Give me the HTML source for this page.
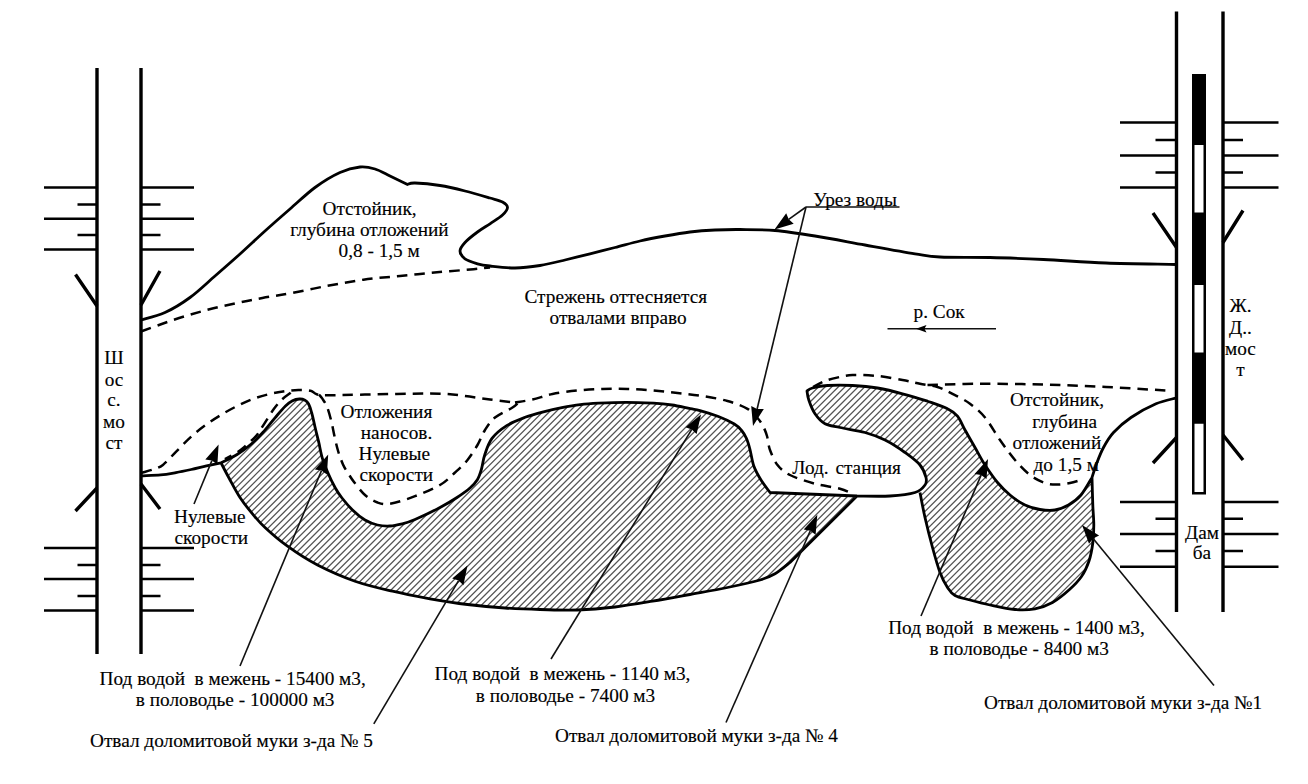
<!DOCTYPE html>
<html lang="ru"><head><meta charset="utf-8"><title>Схема</title>
<style>html,body{margin:0;padding:0;background:#fff}svg{display:block}text{white-space:pre}</style></head>
<body>
<svg width="1308" height="784" viewBox="0 0 1308 784">
<defs><clipPath id="c1"><path d="M221.0 462.8C223.7 461.4 232.1 457.6 237.1 454.5C242.1 451.4 246.7 448.0 251.0 444.3C255.3 440.6 258.8 436.9 262.8 432.5C266.8 428.1 271.2 422.2 275.0 417.8C278.8 413.4 282.6 408.8 285.5 406.0C288.4 403.2 290.2 402.0 292.5 400.8C294.8 399.6 297.4 399.1 299.5 399.0C301.6 398.9 303.5 399.4 305.0 400.2C306.5 401.0 307.5 401.9 308.6 404.0C309.7 406.1 310.6 408.8 311.6 412.5C312.7 416.2 313.8 421.7 314.9 426.5C316.0 431.3 317.2 435.9 318.5 441.2C319.8 446.5 320.8 453.1 322.4 458.4C324.0 463.7 325.9 468.1 328.0 473.0C330.1 477.9 333.0 483.8 335.3 488.0C337.6 492.2 339.1 494.3 342.0 498.0C344.9 501.7 348.7 506.3 352.5 510.0C356.3 513.7 360.8 517.5 365.0 520.0C369.2 522.5 373.3 524.0 377.5 525.0C381.7 526.0 385.8 526.2 390.0 526.0C394.2 525.8 398.3 524.8 402.5 523.8C406.7 522.7 408.8 522.2 415.0 519.5C421.2 516.8 433.0 511.2 440.0 507.5C447.0 503.8 452.0 500.8 457.0 497.5C462.0 494.2 466.6 491.0 470.0 488.0C473.4 485.0 475.6 482.7 477.5 479.5C479.4 476.3 480.3 473.1 481.5 469.0C482.7 464.9 482.9 460.1 484.7 455.0C486.4 449.9 488.3 443.3 492.0 438.4C495.7 433.5 501.2 429.1 506.7 425.6C512.2 422.1 519.0 419.6 525.1 417.3C531.2 415.0 537.3 413.4 543.4 411.8C549.5 410.2 555.7 408.8 561.8 407.6C567.9 406.4 574.1 405.3 580.2 404.6C586.3 403.9 590.9 403.6 598.5 403.2C606.1 402.8 616.9 402.3 626.1 402.3C635.3 402.3 646.0 402.8 653.6 403.2C661.2 403.6 665.9 404.1 672.0 405.0C678.1 405.9 685.6 407.8 690.3 408.7C695.0 409.6 695.3 409.3 700.0 410.6C704.7 411.9 712.7 414.3 718.4 416.5C724.1 418.7 730.4 421.7 734.3 424.0C738.2 426.3 739.6 428.1 741.6 430.5C743.6 432.9 745.1 435.3 746.5 438.5C747.9 441.7 748.8 444.9 750.0 449.5C751.2 454.1 752.0 460.9 753.8 466.0C755.6 471.1 758.3 475.6 761.0 480.0C763.7 484.4 768.5 490.4 770.0 492.5L857.0 496.0L790.0 562.5C787.5 564.4 780.0 570.8 775.0 573.8C770.0 576.7 767.9 577.7 760.0 580.0C752.1 582.3 739.2 585.1 727.5 587.5C715.8 589.9 702.5 592.2 690.0 594.5C677.5 596.8 665.0 599.2 652.5 601.2C640.0 603.3 627.5 605.5 615.0 607.0C602.5 608.5 590.0 609.6 577.5 610.0C565.0 610.4 552.1 609.8 540.0 609.5C527.9 609.2 517.1 608.8 505.0 608.0C492.9 607.2 480.0 606.0 467.5 604.5C455.0 603.0 442.5 601.0 430.0 598.8C417.5 596.5 405.0 594.2 392.5 591.2C380.0 588.3 367.5 585.6 355.0 581.2C342.5 576.9 328.8 570.8 317.5 565.0C306.2 559.2 296.2 552.5 287.5 546.2C278.8 540.0 270.8 532.9 265.0 527.5C259.2 522.1 256.7 518.8 252.5 513.8C248.3 508.8 243.9 503.5 240.0 497.5C236.1 491.5 232.2 483.8 229.0 478.0C225.8 472.2 222.3 465.3 221.0 462.8Z"/></clipPath><clipPath id="c2"><path d="M807.0 391.0C807.9 390.5 809.1 388.9 812.5 388.0C815.9 387.1 820.8 385.9 827.5 385.5C834.2 385.1 844.2 385.1 852.5 385.5C860.8 385.9 869.2 386.6 877.5 388.0C885.8 389.4 894.2 391.5 902.5 393.8C910.8 396.0 920.0 398.8 927.5 401.2C935.0 403.8 942.5 406.2 947.5 408.8C952.5 411.2 954.6 412.7 957.5 416.2C960.4 419.8 962.1 424.8 965.0 430.0C967.9 435.2 971.7 441.7 975.0 447.5C978.3 453.3 981.2 459.2 985.0 465.0C988.8 470.8 993.3 477.5 997.5 482.5C1001.7 487.5 1005.4 491.2 1010.0 495.0C1014.6 498.8 1020.0 502.6 1025.0 505.0C1030.0 507.4 1035.0 508.7 1040.0 509.5C1045.0 510.3 1050.2 510.8 1055.0 510.0C1059.8 509.2 1064.2 507.5 1068.5 505.0C1072.8 502.5 1077.1 499.6 1081.0 495.0C1084.9 490.4 1090.2 480.4 1092.0 477.5C1092.1 482.1 1092.5 497.1 1092.8 505.0C1093.1 512.9 1093.8 518.7 1093.8 525.0C1093.8 531.3 1093.6 537.0 1092.8 543.0C1092.0 549.0 1090.9 555.4 1089.0 561.0C1087.1 566.6 1084.8 571.8 1081.5 576.5C1078.2 581.2 1074.3 585.2 1069.5 589.5C1064.7 593.8 1058.2 599.3 1052.5 602.5C1046.8 605.7 1041.2 607.6 1035.0 608.8C1028.8 609.9 1022.5 610.1 1015.0 609.5C1007.5 608.9 997.5 606.6 990.0 605.0C982.5 603.4 975.8 601.6 970.0 600.0C964.2 598.4 958.8 597.6 955.0 595.5C951.2 593.4 950.0 591.3 947.5 587.5C945.0 583.7 942.5 579.2 940.0 572.5C937.5 565.8 935.0 556.7 932.5 547.5C930.0 538.3 927.1 526.7 925.0 517.5C922.9 508.3 920.8 496.7 920.0 492.5C920.8 491.2 924.0 487.5 925.0 485.0C926.0 482.5 926.8 480.8 926.0 477.5C925.2 474.2 923.5 469.2 920.0 465.0C916.5 460.8 910.8 456.7 905.0 452.5C899.2 448.3 891.7 443.3 885.0 440.0C878.3 436.7 872.5 434.6 865.0 432.5C857.5 430.4 846.7 429.0 840.0 427.5C833.3 426.0 829.2 426.0 825.0 423.8C820.8 421.5 817.7 417.7 815.0 413.8C812.3 409.8 810.1 403.8 808.8 400.0C807.4 396.2 807.3 392.5 807.0 391.0Z"/></clipPath></defs>
<rect width="1308" height="784" fill="#fff"/>
<path d="M-3.6 615.0 L216.4 395.0M3.0 615.0 L223.0 395.0M9.6 615.0 L229.6 395.0M16.2 615.0 L236.2 395.0M22.8 615.0 L242.8 395.0M29.4 615.0 L249.4 395.0M36.0 615.0 L256.0 395.0M42.6 615.0 L262.6 395.0M49.2 615.0 L269.2 395.0M55.8 615.0 L275.8 395.0M62.4 615.0 L282.4 395.0M69.0 615.0 L289.0 395.0M75.6 615.0 L295.6 395.0M82.2 615.0 L302.2 395.0M88.8 615.0 L308.8 395.0M95.4 615.0 L315.4 395.0M102.0 615.0 L322.0 395.0M108.6 615.0 L328.6 395.0M115.2 615.0 L335.2 395.0M121.8 615.0 L341.8 395.0M128.4 615.0 L348.4 395.0M135.0 615.0 L355.0 395.0M141.6 615.0 L361.6 395.0M148.2 615.0 L368.2 395.0M154.8 615.0 L374.8 395.0M161.4 615.0 L381.4 395.0M168.0 615.0 L388.0 395.0M174.6 615.0 L394.6 395.0M181.2 615.0 L401.2 395.0M187.8 615.0 L407.8 395.0M194.4 615.0 L414.4 395.0M201.0 615.0 L421.0 395.0M207.6 615.0 L427.6 395.0M214.2 615.0 L434.2 395.0M220.8 615.0 L440.8 395.0M227.4 615.0 L447.4 395.0M234.0 615.0 L454.0 395.0M240.6 615.0 L460.6 395.0M247.2 615.0 L467.2 395.0M253.8 615.0 L473.8 395.0M260.4 615.0 L480.4 395.0M267.0 615.0 L487.0 395.0M273.6 615.0 L493.6 395.0M280.2 615.0 L500.2 395.0M286.8 615.0 L506.8 395.0M293.4 615.0 L513.4 395.0M300.0 615.0 L520.0 395.0M306.6 615.0 L526.6 395.0M313.2 615.0 L533.2 395.0M319.8 615.0 L539.8 395.0M326.4 615.0 L546.4 395.0M333.0 615.0 L553.0 395.0M339.6 615.0 L559.6 395.0M346.2 615.0 L566.2 395.0M352.8 615.0 L572.8 395.0M359.4 615.0 L579.4 395.0M366.0 615.0 L586.0 395.0M372.6 615.0 L592.6 395.0M379.2 615.0 L599.2 395.0M385.8 615.0 L605.8 395.0M392.4 615.0 L612.4 395.0M399.0 615.0 L619.0 395.0M405.6 615.0 L625.6 395.0M412.2 615.0 L632.2 395.0M418.8 615.0 L638.8 395.0M425.4 615.0 L645.4 395.0M432.0 615.0 L652.0 395.0M438.6 615.0 L658.6 395.0M445.2 615.0 L665.2 395.0M451.8 615.0 L671.8 395.0M458.4 615.0 L678.4 395.0M465.0 615.0 L685.0 395.0M471.6 615.0 L691.6 395.0M478.2 615.0 L698.2 395.0M484.8 615.0 L704.8 395.0M491.4 615.0 L711.4 395.0M498.0 615.0 L718.0 395.0M504.6 615.0 L724.6 395.0M511.2 615.0 L731.2 395.0M517.8 615.0 L737.8 395.0M524.4 615.0 L744.4 395.0M531.0 615.0 L751.0 395.0M537.6 615.0 L757.6 395.0M544.2 615.0 L764.2 395.0M550.8 615.0 L770.8 395.0M557.4 615.0 L777.4 395.0M564.0 615.0 L784.0 395.0M570.6 615.0 L790.6 395.0M577.2 615.0 L797.2 395.0M583.8 615.0 L803.8 395.0M590.4 615.0 L810.4 395.0M597.0 615.0 L817.0 395.0M603.6 615.0 L823.6 395.0M610.2 615.0 L830.2 395.0M616.8 615.0 L836.8 395.0M623.4 615.0 L843.4 395.0M630.0 615.0 L850.0 395.0M636.6 615.0 L856.6 395.0M643.2 615.0 L863.2 395.0M649.8 615.0 L869.8 395.0M656.4 615.0 L876.4 395.0M663.0 615.0 L883.0 395.0M669.6 615.0 L889.6 395.0M676.2 615.0 L896.2 395.0M682.8 615.0 L902.8 395.0M689.4 615.0 L909.4 395.0M696.0 615.0 L916.0 395.0M702.6 615.0 L922.6 395.0M709.2 615.0 L929.2 395.0M715.8 615.0 L935.8 395.0M722.4 615.0 L942.4 395.0M729.0 615.0 L949.0 395.0M735.6 615.0 L955.6 395.0M742.2 615.0 L962.2 395.0M748.8 615.0 L968.8 395.0M755.4 615.0 L975.4 395.0M762.0 615.0 L982.0 395.0M768.6 615.0 L988.6 395.0M775.2 615.0 L995.2 395.0M781.8 615.0 L1001.8 395.0M788.4 615.0 L1008.4 395.0M795.0 615.0 L1015.0 395.0M801.6 615.0 L1021.6 395.0M808.2 615.0 L1028.2 395.0M814.8 615.0 L1034.8 395.0M821.4 615.0 L1041.4 395.0M828.0 615.0 L1048.0 395.0M834.6 615.0 L1054.6 395.0M841.2 615.0 L1061.2 395.0M847.8 615.0 L1067.8 395.0M854.4 615.0 L1074.4 395.0" clip-path="url(#c1)" stroke="#555" stroke-width="1.3" fill="none"/>
<path d="M564.0 615.0 L799.0 380.0M570.6 615.0 L805.6 380.0M577.2 615.0 L812.2 380.0M583.8 615.0 L818.8 380.0M590.4 615.0 L825.4 380.0M597.0 615.0 L832.0 380.0M603.6 615.0 L838.6 380.0M610.2 615.0 L845.2 380.0M616.8 615.0 L851.8 380.0M623.4 615.0 L858.4 380.0M630.0 615.0 L865.0 380.0M636.6 615.0 L871.6 380.0M643.2 615.0 L878.2 380.0M649.8 615.0 L884.8 380.0M656.4 615.0 L891.4 380.0M663.0 615.0 L898.0 380.0M669.6 615.0 L904.6 380.0M676.2 615.0 L911.2 380.0M682.8 615.0 L917.8 380.0M689.4 615.0 L924.4 380.0M696.0 615.0 L931.0 380.0M702.6 615.0 L937.6 380.0M709.2 615.0 L944.2 380.0M715.8 615.0 L950.8 380.0M722.4 615.0 L957.4 380.0M729.0 615.0 L964.0 380.0M735.6 615.0 L970.6 380.0M742.2 615.0 L977.2 380.0M748.8 615.0 L983.8 380.0M755.4 615.0 L990.4 380.0M762.0 615.0 L997.0 380.0M768.6 615.0 L1003.6 380.0M775.2 615.0 L1010.2 380.0M781.8 615.0 L1016.8 380.0M788.4 615.0 L1023.4 380.0M795.0 615.0 L1030.0 380.0M801.6 615.0 L1036.6 380.0M808.2 615.0 L1043.2 380.0M814.8 615.0 L1049.8 380.0M821.4 615.0 L1056.4 380.0M828.0 615.0 L1063.0 380.0M834.6 615.0 L1069.6 380.0M841.2 615.0 L1076.2 380.0M847.8 615.0 L1082.8 380.0M854.4 615.0 L1089.4 380.0M861.0 615.0 L1096.0 380.0M867.6 615.0 L1102.6 380.0M874.2 615.0 L1109.2 380.0M880.8 615.0 L1115.8 380.0M887.4 615.0 L1122.4 380.0M894.0 615.0 L1129.0 380.0M900.6 615.0 L1135.6 380.0M907.2 615.0 L1142.2 380.0M913.8 615.0 L1148.8 380.0M920.4 615.0 L1155.4 380.0M927.0 615.0 L1162.0 380.0M933.6 615.0 L1168.6 380.0M940.2 615.0 L1175.2 380.0M946.8 615.0 L1181.8 380.0M953.4 615.0 L1188.4 380.0M960.0 615.0 L1195.0 380.0M966.6 615.0 L1201.6 380.0M973.2 615.0 L1208.2 380.0M979.8 615.0 L1214.8 380.0M986.4 615.0 L1221.4 380.0M993.0 615.0 L1228.0 380.0M999.6 615.0 L1234.6 380.0M1006.2 615.0 L1241.2 380.0M1012.8 615.0 L1247.8 380.0M1019.4 615.0 L1254.4 380.0M1026.0 615.0 L1261.0 380.0M1032.6 615.0 L1267.6 380.0M1039.2 615.0 L1274.2 380.0M1045.8 615.0 L1280.8 380.0M1052.4 615.0 L1287.4 380.0M1059.0 615.0 L1294.0 380.0M1065.6 615.0 L1300.6 380.0M1072.2 615.0 L1307.2 380.0M1078.8 615.0 L1313.8 380.0M1085.4 615.0 L1320.4 380.0M1092.0 615.0 L1327.0 380.0M1098.6 615.0 L1333.6 380.0" clip-path="url(#c2)" stroke="#555" stroke-width="1.3" fill="none"/>
<g stroke="#000" stroke-width="3.4" fill="none"><path d="M97 68V654M141 68V654"/><path d="M75.5 274.5L97 306M160 271L141 305M97 488L75.5 511M141 484L160 509"/></g><g stroke="#000" stroke-width="2.6" fill="none"><path d="M44 187.5H97M141 187.5H194M77.5 204.5H97M141 204.5H160.5M44 218.8H97M141 218.8H194M77.5 235.0H97M141 235.0H160.5M44 249.5H97M141 249.5H194M44 548.0H97M141 548.0H194M77.5 565.0H97M141 565.0H160.5M44 579.0H97M141 579.0H194M77.5 596.0H97M141 596.0H160.5M44 610.5H97M141 610.5H194"/></g>
<g stroke="#000" stroke-width="3.4" fill="none"><path d="M1176.5 11.5V612M1223 11.5V612"/><path d="M1153 213L1176.5 247.5M1243 210.5L1223 242.5M1176.5 437.5L1153 463M1223 435L1243 460"/></g><g stroke="#000" stroke-width="2.6" fill="none"><path d="M1120 122.5H1176.5M1223 122.5H1278.5M1155.5 140.0H1176.5M1223 140.0H1243M1120 155.5H1176.5M1223 155.5H1278.5M1155.5 172.5H1176.5M1223 172.5H1243M1120 187.5H1176.5M1223 187.5H1278.5M1120 502.0H1176.5M1223 502.0H1278.5M1155.5 518.8H1176.5M1223 518.8H1243M1120 534.0H1176.5M1223 534.0H1278.5M1155.5 551.0H1176.5M1223 551.0H1243M1120 566.8H1176.5M1223 566.8H1278.5"/></g><rect x="1192" y="74" width="14" height="420.5" fill="#000"/><rect x="1194.5" y="145" width="9" height="67.5" fill="#fff"/><rect x="1194.5" y="285" width="9" height="67.5" fill="#fff"/><rect x="1194.5" y="423.75" width="9" height="68.25" fill="#fff"/>
<path d="M141.0 320.0C145.0 318.8 156.8 316.2 165.0 312.5C173.2 308.8 181.7 303.6 190.0 297.5C198.3 291.4 206.7 283.2 215.0 276.0C223.3 268.8 231.7 261.5 240.0 254.0C248.3 246.5 256.7 238.5 265.0 231.0C273.3 223.5 281.7 216.2 290.0 209.0C298.3 201.8 306.7 193.6 315.0 187.5C323.3 181.4 332.5 175.9 340.0 172.5C347.5 169.1 354.2 167.6 360.0 167.0C365.8 166.4 370.0 167.5 375.0 169.0C380.0 170.5 384.6 173.4 390.0 176.0C395.4 178.6 404.6 183.1 407.5 184.5C408.8 184.2 409.6 182.8 415.0 183.0C420.4 183.2 431.7 184.2 440.0 185.5C448.3 186.8 456.7 188.9 465.0 191.0C473.3 193.1 483.8 196.2 490.0 198.0C496.2 199.8 499.6 200.4 502.5 202.0C505.4 203.6 507.5 205.3 507.5 207.5C507.5 209.7 505.4 212.3 502.5 215.0C499.6 217.7 494.2 220.9 490.0 223.8C485.8 226.6 481.7 228.9 477.5 232.0C473.3 235.1 467.9 239.3 465.0 242.5C462.1 245.7 460.0 248.3 460.0 251.0C460.0 253.7 462.1 256.6 465.0 258.8C467.9 260.9 473.3 262.5 477.5 263.8C481.7 265.0 483.8 265.3 490.0 266.0C496.2 266.7 506.7 268.1 515.0 268.0C523.3 267.9 531.7 266.8 540.0 265.5C548.3 264.2 556.7 262.0 565.0 260.0C573.3 258.0 581.7 255.8 590.0 253.8C598.3 251.7 606.7 249.6 615.0 247.5C623.3 245.4 631.7 242.9 640.0 241.0C648.3 239.1 656.7 237.5 665.0 236.0C673.3 234.5 681.7 233.0 690.0 232.0C698.3 231.0 706.7 230.4 715.0 230.0C723.3 229.6 730.0 229.4 740.0 229.5C750.0 229.6 762.5 229.4 775.0 230.5C787.5 231.6 800.0 233.6 815.0 236.0C830.0 238.4 848.3 242.0 865.0 245.0C881.7 248.0 902.5 251.8 915.0 253.8C927.5 255.8 927.5 256.4 940.0 257.0C952.5 257.6 972.8 257.1 990.0 257.5C1007.2 257.9 1024.2 258.6 1043.5 259.5C1062.8 260.4 1083.9 262.2 1106.0 263.0C1128.1 263.8 1164.3 264.2 1176.0 264.5M141.0 475.8C144.3 475.6 154.8 475.4 160.6 474.9C166.4 474.4 170.8 473.5 175.9 472.6C181.0 471.7 186.1 470.6 191.2 469.5C196.3 468.4 201.5 467.0 206.5 465.9C211.5 464.8 218.6 463.3 221.0 462.8C223.7 461.4 232.1 457.6 237.1 454.5C242.1 451.4 246.7 448.0 251.0 444.3C255.3 440.6 258.8 436.9 262.8 432.5C266.8 428.1 271.2 422.2 275.0 417.8C278.8 413.4 282.6 408.8 285.5 406.0C288.4 403.2 290.2 402.0 292.5 400.8C294.8 399.6 297.4 399.1 299.5 399.0C301.6 398.9 303.5 399.4 305.0 400.2C306.5 401.0 307.5 401.9 308.6 404.0C309.7 406.1 310.6 408.8 311.6 412.5C312.7 416.2 313.8 421.7 314.9 426.5C316.0 431.3 317.2 435.9 318.5 441.2C319.8 446.5 320.8 453.1 322.4 458.4C324.0 463.7 325.9 468.1 328.0 473.0C330.1 477.9 333.0 483.8 335.3 488.0C337.6 492.2 339.1 494.3 342.0 498.0C344.9 501.7 348.7 506.3 352.5 510.0C356.3 513.7 360.8 517.5 365.0 520.0C369.2 522.5 373.3 524.0 377.5 525.0C381.7 526.0 385.8 526.2 390.0 526.0C394.2 525.8 398.3 524.8 402.5 523.8C406.7 522.7 408.8 522.2 415.0 519.5C421.2 516.8 433.0 511.2 440.0 507.5C447.0 503.8 452.0 500.8 457.0 497.5C462.0 494.2 466.6 491.0 470.0 488.0C473.4 485.0 475.6 482.7 477.5 479.5C479.4 476.3 480.3 473.1 481.5 469.0C482.7 464.9 482.9 460.1 484.7 455.0C486.4 449.9 488.3 443.3 492.0 438.4C495.7 433.5 501.2 429.1 506.7 425.6C512.2 422.1 519.0 419.6 525.1 417.3C531.2 415.0 537.3 413.4 543.4 411.8C549.5 410.2 555.7 408.8 561.8 407.6C567.9 406.4 574.1 405.3 580.2 404.6C586.3 403.9 590.9 403.6 598.5 403.2C606.1 402.8 616.9 402.3 626.1 402.3C635.3 402.3 646.0 402.8 653.6 403.2C661.2 403.6 665.9 404.1 672.0 405.0C678.1 405.9 685.6 407.8 690.3 408.7C695.0 409.6 695.3 409.3 700.0 410.6C704.7 411.9 712.7 414.3 718.4 416.5C724.1 418.7 730.4 421.7 734.3 424.0C738.2 426.3 739.6 428.1 741.6 430.5C743.6 432.9 745.1 435.3 746.5 438.5C747.9 441.7 748.8 444.9 750.0 449.5C751.2 454.1 752.0 460.9 753.8 466.0C755.6 471.1 758.3 475.6 761.0 480.0C763.7 484.4 768.5 490.4 770.0 492.5L857.0 496.0C862.5 496.0 880.3 496.6 890.0 496.0C899.7 495.4 909.2 494.3 915.0 492.5C920.8 490.7 923.2 487.5 925.0 485.0C926.8 482.5 926.8 480.8 926.0 477.5C925.2 474.2 923.5 469.2 920.0 465.0C916.5 460.8 910.8 456.7 905.0 452.5C899.2 448.3 891.7 443.3 885.0 440.0C878.3 436.7 872.5 434.6 865.0 432.5C857.5 430.4 846.7 429.0 840.0 427.5C833.3 426.0 829.2 426.0 825.0 423.8C820.8 421.5 817.7 417.7 815.0 413.8C812.3 409.8 810.1 403.8 808.8 400.0C807.4 396.2 807.3 392.5 807.0 391.0C807.9 390.5 809.1 388.9 812.5 388.0C815.9 387.1 820.8 385.9 827.5 385.5C834.2 385.1 844.2 385.1 852.5 385.5C860.8 385.9 869.2 386.6 877.5 388.0C885.8 389.4 894.2 391.5 902.5 393.8C910.8 396.0 920.0 398.8 927.5 401.2C935.0 403.8 942.5 406.2 947.5 408.8C952.5 411.2 954.6 412.7 957.5 416.2C960.4 419.8 962.1 424.8 965.0 430.0C967.9 435.2 971.7 441.7 975.0 447.5C978.3 453.3 981.2 459.2 985.0 465.0C988.8 470.8 993.3 477.5 997.5 482.5C1001.7 487.5 1005.4 491.2 1010.0 495.0C1014.6 498.8 1020.0 502.6 1025.0 505.0C1030.0 507.4 1035.0 508.7 1040.0 509.5C1045.0 510.3 1050.2 510.8 1055.0 510.0C1059.8 509.2 1064.2 507.5 1068.5 505.0C1072.8 502.5 1077.1 499.6 1081.0 495.0C1084.9 490.4 1090.2 480.4 1092.0 477.5C1092.8 475.0 1095.1 467.5 1097.0 462.5C1098.9 457.5 1100.8 452.5 1103.5 447.5C1106.2 442.5 1108.9 437.5 1113.5 432.5C1118.1 427.5 1123.9 422.3 1131.0 417.5C1138.1 412.7 1148.5 407.0 1156.0 403.8C1163.5 400.5 1172.7 399.0 1176.0 398.0M221.0 462.8C222.3 465.3 225.8 472.2 229.0 478.0C232.2 483.8 236.1 491.5 240.0 497.5C243.9 503.5 248.3 508.8 252.5 513.8C256.7 518.8 259.2 522.1 265.0 527.5C270.8 532.9 278.8 540.0 287.5 546.2C296.2 552.5 306.2 559.2 317.5 565.0C328.8 570.8 342.5 576.9 355.0 581.2C367.5 585.6 380.0 588.3 392.5 591.2C405.0 594.2 417.5 596.5 430.0 598.8C442.5 601.0 455.0 603.0 467.5 604.5C480.0 606.0 492.9 607.2 505.0 608.0C517.1 608.8 527.9 609.2 540.0 609.5C552.1 609.8 565.0 610.4 577.5 610.0C590.0 609.6 602.5 608.5 615.0 607.0C627.5 605.5 640.0 603.3 652.5 601.2C665.0 599.2 677.5 596.8 690.0 594.5C702.5 592.2 715.8 589.9 727.5 587.5C739.2 585.1 752.1 582.3 760.0 580.0C767.9 577.7 770.0 576.7 775.0 573.8C780.0 570.8 787.5 564.4 790.0 562.5L857.0 496.0M1092.0 477.5C1092.1 482.1 1092.5 497.1 1092.8 505.0C1093.1 512.9 1093.8 518.7 1093.8 525.0C1093.8 531.3 1093.6 537.0 1092.8 543.0C1092.0 549.0 1090.9 555.4 1089.0 561.0C1087.1 566.6 1084.8 571.8 1081.5 576.5C1078.2 581.2 1074.3 585.2 1069.5 589.5C1064.7 593.8 1058.2 599.3 1052.5 602.5C1046.8 605.7 1041.2 607.6 1035.0 608.8C1028.8 609.9 1022.5 610.1 1015.0 609.5C1007.5 608.9 997.5 606.6 990.0 605.0C982.5 603.4 975.8 601.6 970.0 600.0C964.2 598.4 958.8 597.6 955.0 595.5C951.2 593.4 950.0 591.3 947.5 587.5C945.0 583.7 942.5 579.2 940.0 572.5C937.5 565.8 935.0 556.7 932.5 547.5C930.0 538.3 927.1 526.7 925.0 517.5C922.9 508.3 920.8 496.7 920.0 492.5" stroke="#000" stroke-width="2.8" fill="none" stroke-linejoin="round" stroke-linecap="butt"/>
<path d="M141.0 331.5C144.9 330.1 156.5 325.8 164.5 323.0C172.5 320.2 180.8 317.4 189.0 315.0C197.2 312.6 205.2 310.3 213.4 308.3C221.6 306.3 229.8 304.5 238.0 302.8C246.2 301.1 253.7 299.6 262.4 298.0C271.1 296.4 279.3 295.4 290.0 293.4C300.7 291.4 314.5 288.3 326.7 286.0C338.9 283.7 351.2 281.4 363.4 279.7C375.6 278.0 387.7 277.2 400.0 276.0C412.3 274.8 424.7 273.4 437.0 272.3C449.3 271.2 464.8 270.0 473.6 269.2C482.4 268.4 487.3 267.7 490.0 267.4M141.5 472.8C143.4 472.2 149.4 470.8 153.0 469.5C156.6 468.2 159.1 467.8 162.9 464.9C166.7 462.0 171.2 456.6 175.9 451.9C180.6 447.2 186.1 441.2 191.2 436.6C196.3 432.0 201.4 428.1 206.5 424.4C211.6 420.7 216.7 417.5 221.8 414.4C226.9 411.3 232.0 408.6 237.1 406.0C242.2 403.4 247.3 401.0 252.4 399.1C257.5 397.2 262.6 395.8 267.7 394.5C272.8 393.2 277.9 392.3 283.0 391.5C288.1 390.7 293.7 390.0 298.3 389.9C302.9 389.8 307.5 390.0 310.6 390.7C313.7 391.4 313.5 393.5 316.7 394.3C319.9 395.1 317.8 395.4 330.0 395.3C342.2 395.2 371.7 394.3 390.0 394.0C408.3 393.7 427.5 393.4 440.0 393.8C452.5 394.1 456.7 395.0 465.0 396.0C473.3 397.0 481.7 398.4 490.0 399.5C498.3 400.6 510.8 402.0 515.0 402.5M319.0 394.5C319.5 395.1 320.8 396.3 322.2 398.4C323.6 400.5 325.6 403.1 327.1 407.0C328.6 410.9 330.2 416.7 331.4 421.6C332.6 426.5 333.4 431.4 334.5 436.3C335.6 441.2 336.7 446.3 338.1 451.0C339.5 455.7 341.4 460.8 343.0 464.5C344.6 468.2 346.2 470.1 348.0 473.0C349.8 475.9 351.2 478.3 354.0 482.0C356.8 485.7 361.1 491.6 365.0 495.0C368.9 498.4 373.3 501.0 377.5 502.5C381.7 504.0 383.8 504.8 390.0 503.8C396.2 502.7 406.7 499.4 415.0 496.2C423.3 493.1 433.3 489.0 440.0 485.0C446.7 481.0 450.4 476.7 455.0 472.5C459.6 468.3 463.8 464.6 467.5 460.0C471.2 455.4 474.6 450.0 477.5 445.0C480.4 440.0 482.1 434.6 485.0 430.0C487.9 425.4 490.4 421.2 495.0 417.5C499.6 413.8 508.3 410.2 512.5 407.5C516.7 404.8 518.8 402.1 520.0 401.0M515.0 402.5C517.9 402.0 526.2 400.9 532.5 399.5C538.8 398.1 545.0 395.5 552.5 394.0C560.0 392.5 569.2 391.3 577.5 390.5C585.8 389.7 594.2 389.2 602.5 389.0C610.8 388.8 619.2 388.8 627.5 389.0C635.8 389.2 644.2 389.8 652.5 390.5C660.8 391.2 669.2 392.1 677.5 393.0C685.8 393.9 694.2 394.7 702.5 396.0C710.8 397.3 720.0 398.9 727.5 401.0C735.0 403.1 742.5 405.9 747.5 408.8C752.5 411.6 754.9 415.1 757.5 418.0C760.1 420.9 761.4 423.0 763.0 426.0C764.6 429.0 765.8 432.0 767.0 436.0C768.2 440.0 768.2 445.2 770.0 450.0C771.8 454.8 774.2 460.8 777.5 465.0C780.8 469.2 783.8 471.9 790.0 475.0C796.2 478.1 806.7 481.5 815.0 483.8C823.3 486.0 833.7 487.0 840.0 488.8C846.3 490.5 850.8 493.1 853.0 494.0M290.7 392.8C289.2 394.0 284.3 397.2 281.5 399.9C278.7 402.6 276.1 405.9 273.8 409.0C271.5 412.1 270.0 414.7 267.7 418.3C265.4 421.9 262.0 427.4 260.0 430.5C258.0 433.6 258.3 433.7 255.5 436.6C252.7 439.5 246.3 445.4 243.2 448.0C240.1 450.6 240.1 450.7 237.0 452.5C233.9 454.3 226.9 457.9 224.9 459.0M813.0 387.0C814.8 386.1 819.6 383.2 823.6 381.6C827.6 380.0 832.2 378.7 837.0 377.6C841.8 376.5 845.8 375.3 852.5 375.0C859.2 374.7 869.2 375.2 877.5 376.0C885.8 376.8 895.4 378.7 902.5 380.0C909.6 381.3 914.2 382.6 920.0 383.8C925.8 384.9 932.1 385.3 937.5 387.0C942.9 388.7 947.1 391.0 952.5 393.8C957.9 396.5 964.6 399.8 970.0 403.8C975.4 407.7 980.0 411.5 985.0 417.5C990.0 423.5 995.0 432.9 1000.0 440.0C1005.0 447.1 1010.0 454.2 1015.0 460.0C1020.0 465.8 1025.0 471.2 1030.0 475.0C1035.0 478.8 1040.4 481.4 1045.0 483.0C1049.6 484.6 1053.3 484.5 1057.5 484.5C1061.7 484.5 1066.1 483.8 1070.0 483.0C1073.9 482.2 1079.2 480.5 1081.0 480.0M927.5 385.0C936.4 384.8 961.7 383.8 981.0 383.8C1000.3 383.7 1022.7 384.0 1043.5 384.5C1064.3 385.0 1084.9 386.0 1106.0 387.0C1127.1 388.0 1159.3 390.1 1170.0 390.8" stroke="#000" stroke-width="2.5" fill="none" stroke-dasharray="10.5 7"/>
<line x1="806" y1="207" x2="899.5" y2="207" stroke="#111" stroke-width="1.6"/>
<line x1="806.0" y1="207.0" x2="788.7" y2="219.3" stroke="#111" stroke-width="1.6"/><polygon points="774.5,229.5 786.2,213.2 788.7,219.3 793.7,223.7" fill="#000"/>
<line x1="806.0" y1="207.0" x2="757.1" y2="409.0" stroke="#111" stroke-width="1.6"/><polygon points="753.0,426.0 751.2,406.0 757.1,409.0 763.8,409.1" fill="#000"/>
<line x1="887.5" y1="328.75" x2="996" y2="328.75" stroke="#111" stroke-width="1.6"/>
<polygon points="916,328.75 926.5,325 924.5,328.75 926.5,332.5" fill="#000"/>
<line x1="194.0" y1="504.0" x2="211.9" y2="460.6" stroke="#111" stroke-width="1.6"/><polygon points="218.6,444.4 217.4,464.4 211.9,460.6 205.3,459.5" fill="#000"/>
<line x1="240.0" y1="666.0" x2="321.5" y2="470.6" stroke="#111" stroke-width="1.6"/><polygon points="328.2,454.4 326.9,474.4 321.5,470.6 314.9,469.4" fill="#000"/>
<line x1="373.8" y1="723.8" x2="458.6" y2="580.6" stroke="#111" stroke-width="1.6"/><polygon points="467.5,565.5 463.4,585.2 458.6,580.6 452.2,578.5" fill="#000"/>
<line x1="551.0" y1="659.0" x2="691.8" y2="429.4" stroke="#111" stroke-width="1.6"/><polygon points="701.0,414.5 696.6,434.1 691.8,429.4 685.5,427.3" fill="#000"/>
<line x1="726.0" y1="722.5" x2="810.3" y2="530.8" stroke="#111" stroke-width="1.6"/><polygon points="817.3,514.8 815.6,534.8 810.3,530.8 803.7,529.6" fill="#000"/>
<line x1="921.0" y1="616.0" x2="981.1" y2="475.1" stroke="#111" stroke-width="1.6"/><polygon points="988.0,459.0 986.5,479.0 981.1,475.1 974.6,473.9" fill="#000"/>
<line x1="1214.0" y1="685.5" x2="1093.1" y2="538.5" stroke="#111" stroke-width="1.6"/><polygon points="1082.0,525.0 1099.1,535.5 1093.1,538.5 1089.0,543.8" fill="#000"/>
<g font-family="'Liberation Serif', serif" font-size="19.3" fill="#000" stroke="#000" stroke-width="0.15" opacity="0.995">
<text x="322.5" y="214.6" text-anchor="start" xml:space="preserve">Отстойник,</text>
<text x="290.2" y="235.9" text-anchor="start" xml:space="preserve">глубина отложений</text>
<text x="338.5" y="256.9" text-anchor="start" xml:space="preserve">0,8 - 1,5 м</text>
<text x="524.5" y="302.9" text-anchor="start" xml:space="preserve">Стрежень оттесняется</text>
<text x="549.5" y="323.9" text-anchor="start" xml:space="preserve">отвалами вправо</text>
<text x="813.2" y="206.4" text-anchor="start" xml:space="preserve">Урез воды</text>
<text x="913.5" y="317.9" text-anchor="start" xml:space="preserve">р. Сок</text>
<text x="340.5" y="417.9" text-anchor="start" xml:space="preserve">Отложения</text>
<text x="360.8" y="439.1" text-anchor="start" xml:space="preserve">наносов.</text>
<text x="358.5" y="459.9" text-anchor="start" xml:space="preserve">Нулевые</text>
<text x="359.5" y="481.1" text-anchor="start" xml:space="preserve">скорости</text>
<text x="174.0" y="522.9" text-anchor="start" xml:space="preserve">Нулевые</text>
<text x="174.5" y="544.4" text-anchor="start" xml:space="preserve">скорости</text>
<text x="792.3" y="473.7" text-anchor="start" xml:space="preserve">Лод. <tspan x="835.4">станция</tspan></text>
<text x="1010.0" y="406.4" text-anchor="start" xml:space="preserve">Отстойник,</text>
<text x="1032.2" y="428.4" text-anchor="start" xml:space="preserve">глубина</text>
<text x="1012.5" y="449.4" text-anchor="start" xml:space="preserve">отложений</text>
<text x="1033.5" y="470.9" text-anchor="start" xml:space="preserve">до 1,5 м</text>
<text x="99.5" y="684.9" text-anchor="start" xml:space="preserve">Под водой  в межень - 15400 м3,</text>
<text x="135.8" y="705.9" text-anchor="start" xml:space="preserve">в половодье - 100000 м3</text>
<text x="90.0" y="746.9" text-anchor="start" xml:space="preserve">Отвал доломитовой муки з-да № 5</text>
<text x="434.5" y="680.4" text-anchor="start" xml:space="preserve">Под водой  в межень - 1140 м3,</text>
<text x="475.8" y="701.6" text-anchor="start" xml:space="preserve">в половодье - 7400 м3</text>
<text x="555.0" y="742.4" text-anchor="start" xml:space="preserve">Отвал доломитовой муки з-да № 4</text>
<text x="888.2" y="634.1" text-anchor="start" xml:space="preserve">Под водой  в межень - 1400 м3,</text>
<text x="929.5" y="655.4" text-anchor="start" xml:space="preserve">в половодье - 8400 м3</text>
<text x="984.0" y="708.6" text-anchor="start" xml:space="preserve">Отвал доломитовой муки з-да №1</text>
<text x="114.0" y="364.4" text-anchor="middle" xml:space="preserve">Ш</text>
<text x="114.0" y="385.9" text-anchor="middle" xml:space="preserve">ос</text>
<text x="114.0" y="406.4" text-anchor="middle" xml:space="preserve">с.</text>
<text x="114.0" y="427.9" text-anchor="middle" xml:space="preserve">мо</text>
<text x="114.0" y="448.9" text-anchor="middle" xml:space="preserve">ст</text>
<text x="1240.5" y="312.0" text-anchor="middle" xml:space="preserve">Ж.</text>
<text x="1240.5" y="334.0" text-anchor="middle" xml:space="preserve">Д..</text>
<text x="1240.5" y="355.0" text-anchor="middle" xml:space="preserve">мос</text>
<text x="1240.5" y="376.4" text-anchor="middle" xml:space="preserve">т</text>
<text x="1202.0" y="538.7" text-anchor="middle" xml:space="preserve">Дам</text>
<text x="1202.0" y="559.2" text-anchor="middle" xml:space="preserve">ба</text>
</g>
</svg>
</body></html>
